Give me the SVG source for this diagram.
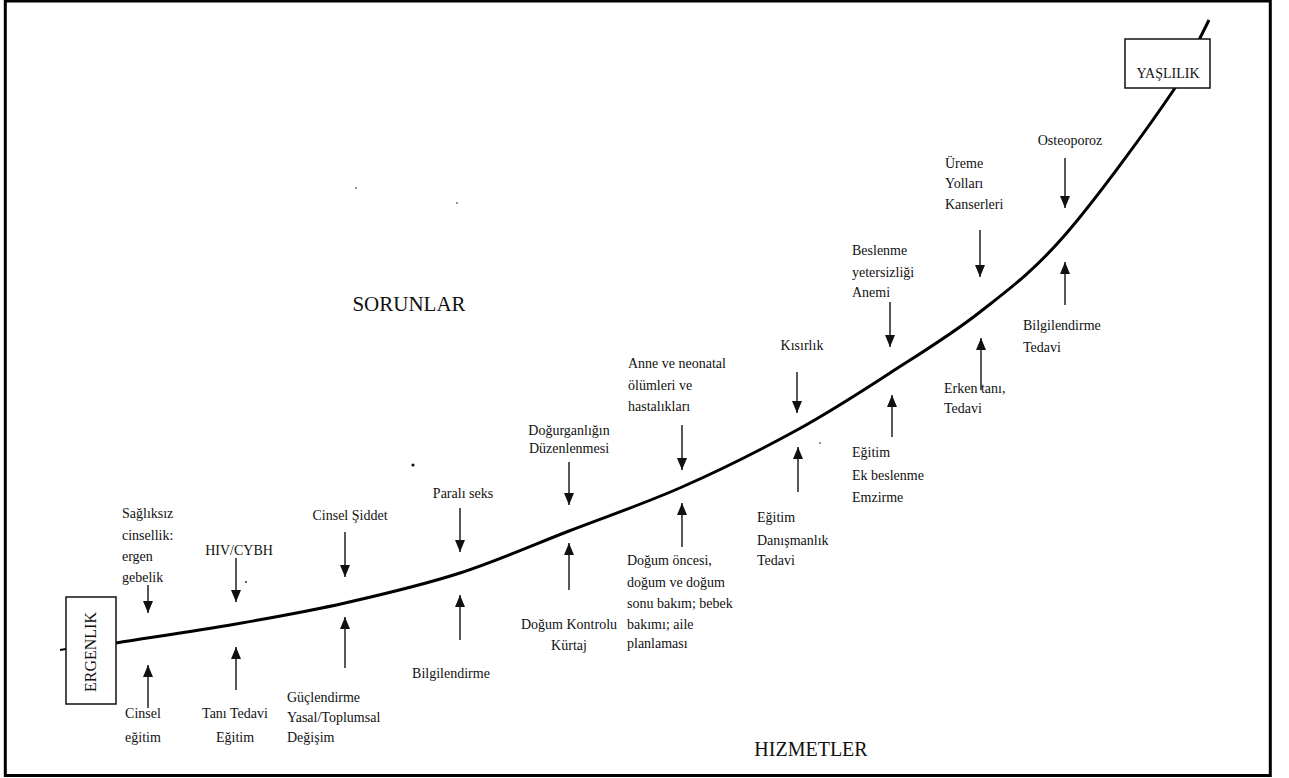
<svg xmlns="http://www.w3.org/2000/svg" width="1289" height="778" viewBox="0 0 1289 778">
<style>
text{font-family:"Liberation Serif","Times New Roman",serif;font-size:14px;fill:#111}
.big{font-size:21px}
.c{text-anchor:middle}
.arr{stroke:#111;stroke-width:1.4;fill:none;marker-end:url(#ah)}
.box{fill:#fff;stroke:#111;stroke-width:1.5}
</style>
<defs>
<marker id="ah" markerUnits="userSpaceOnUse" markerWidth="12" markerHeight="10" refX="12" refY="5" orient="auto" viewBox="0 0 12 10">
<path d="M0,0 L12,5 L0,10 Z" fill="#111"/>
</marker>
</defs>
<rect x="5.3" y="1" width="1265" height="774.5" fill="none" stroke="#000" stroke-width="3"/>
<g id="connectors">
<path id="curve" d="M116,643 C156,636.7 197.8,630.7 236,624 C274.2,617.3 307.7,611.5 345,603 C382.3,594.5 422.7,585 460,573 C497.3,561 532,545.3 569,531 C606,516.7 644,503.8 682,487 C720,470.2 762.3,449 797,430 C831.7,411 859.5,392.7 890,373 C920.5,353.3 950.8,335 980,312 C1009.2,289 1032.5,272.3 1065,235 C1097.5,197.7 1151,123.8 1175,88 L1209,20" fill="none" stroke="#000" stroke-width="3"/>
<line x1="60" y1="650" x2="66" y2="649" stroke="#000" stroke-width="2"/>
<g id="down-arrows">
<path class="arr" d="M148,585 V613"/>
<path class="arr" d="M236,558 V602"/>
<path class="arr" d="M345,532 V577"/>
<path class="arr" d="M460,508 V552"/>
<path class="arr" d="M569,462 V505"/>
<path class="arr" d="M682,425 V470"/>
<path class="arr" d="M797,372 V413"/>
<path class="arr" d="M890,302 V347"/>
<path class="arr" d="M980,230 V277"/>
<path class="arr" d="M1065,158 V208"/>
</g>
<g id="up-arrows">
<path class="arr" d="M148,708 V665"/>
<path class="arr" d="M236,690 V647"/>
<path class="arr" d="M345,668 V617"/>
<path class="arr" d="M460,640 V595"/>
<path class="arr" d="M569,590 V543"/>
<path class="arr" d="M682,547 V503"/>
<path class="arr" d="M798,492 V447"/>
<path class="arr" d="M892,437 V395"/>
<path class="arr" d="M981,390 V338"/>
<path class="arr" d="M1065,305 V262"/>
</g>
</g>
<g id="ergenlik">
<rect class="box" x="66" y="597" width="50" height="107"/>
<text class="c" transform="translate(96,652) rotate(-90)" style="font-size:16px">ERGENLIK</text>
</g>
<g id="yaslilik">
<rect class="box" x="1125" y="39" width="85" height="49"/>
<text class="c" x="1168" y="78">YAŞLILIK</text>
</g>
<g id="sorunlar"><text class="big c" x="409" y="311">SORUNLAR</text></g>
<g id="hizmetler"><text class="big c" x="811" y="756" style="font-size:20px">HIZMETLER</text></g>
<g id="p1"><text x="122" y="518">Sağlıksız</text><text x="122" y="540">cinsellik:</text><text x="122" y="561">ergen</text><text x="122" y="582">gebelik</text></g>
<g id="p2"><text class="c" x="239" y="555">HIV/CYBH</text></g>
<g id="p3"><text class="c" x="350" y="520">Cinsel Şiddet</text></g>
<g id="p4"><text class="c" x="463" y="498">Paralı seks</text></g>
<g id="p5"><text class="c" x="569" y="435">Doğurganlığın</text><text class="c" x="569" y="453">Düzenlenmesi</text></g>
<g id="p6"><text x="628" y="368">Anne ve neonatal</text><text x="628" y="390">ölümleri ve</text><text x="628" y="411">hastalıkları</text></g>
<g id="p7"><text class="c" x="802" y="350">Kısırlık</text></g>
<g id="p8"><text x="852" y="255">Beslenme</text><text x="852" y="277">yetersizliği</text><text x="852" y="297">Anemi</text></g>
<g id="p9"><text x="945" y="168">Üreme</text><text x="945" y="188">Yolları</text><text x="945" y="209">Kanserleri</text></g>
<g id="p10"><text class="c" x="1070" y="145">Osteoporoz</text></g>
<g id="s1"><text class="c" x="143" y="718">Cinsel</text><text class="c" x="143" y="742">eğitim</text></g>
<g id="s2"><text class="c" x="235" y="718">Tanı Tedavi</text><text class="c" x="235" y="742">Eğitim</text></g>
<g id="s3"><text x="287" y="702">Güçlendirme</text><text x="287" y="722">Yasal/Toplumsal</text><text x="287" y="742">Değişim</text></g>
<g id="s4"><text class="c" x="451" y="678">Bilgilendirme</text></g>
<g id="s5"><text class="c" x="569" y="629">Doğum Kontrolu</text><text class="c" x="569" y="650">Kürtaj</text></g>
<g id="s6"><text x="627" y="565">Doğum öncesi,</text><text x="627" y="587">doğum ve doğum</text><text x="627" y="608">sonu bakım; bebek</text><text x="627" y="629">bakımı; aile</text><text x="627" y="648">planlaması</text></g>
<g id="s7"><text x="757" y="522">Eğitim</text><text x="757" y="545">Danışmanlık</text><text x="757" y="565">Tedavi</text></g>
<g id="s8"><text x="852" y="457">Eğitim</text><text x="852" y="480">Ek beslenme</text><text x="852" y="502">Emzirme</text></g>
<g id="s9"><text x="944" y="393">Erken tanı,</text><text x="944" y="413">Tedavi</text></g>
<g id="s10"><text x="1023" y="330">Bilgilendirme</text><text x="1023" y="352">Tedavi</text></g>
<g id="specks" fill="#111"><circle cx="413" cy="465" r="1.6"/><circle cx="246" cy="582" r="0.9"/><circle cx="820" cy="443" r="0.8"/><circle cx="356" cy="188" r="0.8"/><circle cx="457" cy="203" r="0.8"/></g>
</svg>
